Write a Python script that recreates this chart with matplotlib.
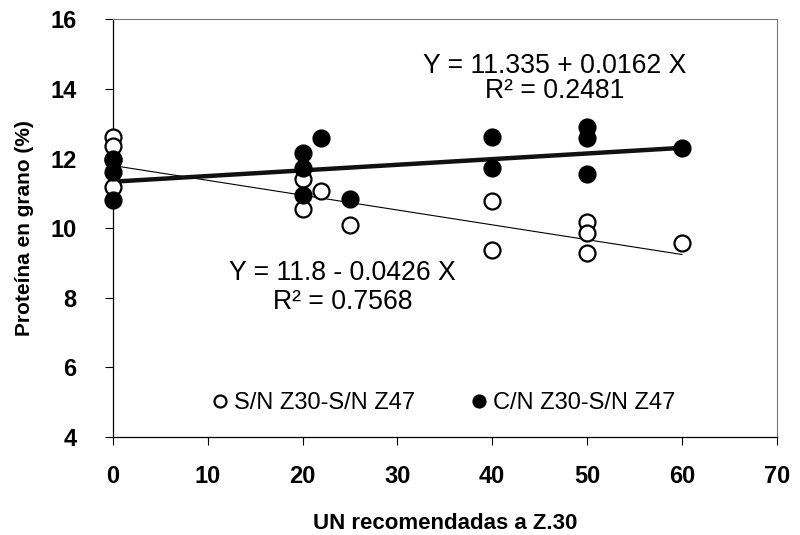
#!/usr/bin/python
#coding: utf8

## Proteina en grano vs UN recomendadas a Z.30

import matplotlib
matplotlib.use("Agg")
import matplotlib.pyplot as plt
import numpy as np

plt.rcParams['font.family'] = ['Liberation Sans', 'DejaVu Sans']

## data
sn_x = [0, 0, 0, 0, 20, 20, 22, 25, 40, 40, 50, 50, 50, 60]
sn_y = [12.63, 12.35, 11.95, 11.17, 11.42, 10.56, 11.08, 10.10, 10.79, 9.38, 10.19, 9.87, 9.30, 9.58]

cn_x = [0, 0, 0, 20, 20, 20, 22, 25, 40, 40, 50, 50, 50, 60]
cn_y = [12.00, 11.60, 10.82, 12.17, 11.74, 10.96, 12.58, 10.85, 12.63, 11.74, 12.92, 12.58, 11.57, 12.29]

## regression coefficients (from the equations on the chart)
sn_fit = (11.8, -0.0426)
cn_fit = (11.335, 0.0162)
fit_x = [0, 60]

x_ticks = [0, 10, 20, 30, 40, 50, 60, 70]
y_ticks = [4, 6, 8, 10, 12, 14, 16]

## figure
fig = plt.figure(figsize=(8, 5.35), dpi=100)
ax = fig.add_axes([0.141, 0.183, 0.830, 0.781])

xs = np.array(fit_x)
ax.plot(xs, sn_fit[0] + sn_fit[1] * xs, color='black', linewidth=0.8, zorder=2)
ax.plot(xs, cn_fit[0] + cn_fit[1] * xs, color='#111111', linewidth=3.2, zorder=2)

ax.plot(sn_x, sn_y, linestyle='none', marker='o', markersize=11.5,
        markerfacecolor='white', markeredgecolor='black', markeredgewidth=1.6,
        label='S/N Z30-S/N Z47', zorder=3, clip_on=False)
ax.plot(cn_x, cn_y, linestyle='none', marker='o', markersize=11.5,
        markerfacecolor='black', markeredgecolor='black', markeredgewidth=1.6,
        label='C/N Z30-S/N Z47', zorder=4, clip_on=False)

## equations
ax.text(46.6, 14.65, 'Y = 11.335 + 0.0162 X', ha='center', va='center', fontsize=19.2)
ax.text(46.6, 13.93, 'R² = 0.2481', ha='center', va='center', fontsize=19.2)
ax.text(24.2, 8.72, 'Y = 11.8 - 0.0426 X', ha='center', va='center', fontsize=19.2)
ax.text(24.2, 7.88, 'R² = 0.7568', ha='center', va='center', fontsize=19.2)

## axes
ax.set_xlim(0, 70)
ax.set_ylim(4, 16)
ax.set_xticks(x_ticks)
ax.set_yticks(y_ticks)
ax.tick_params(direction='out', length=6, width=0.8, labelsize=17)
ax.tick_params(axis='x', pad=14)
ax.tick_params(axis='y', pad=20)
for lab in ax.get_xticklabels() + ax.get_yticklabels():
    lab.set_fontweight('bold')

for side in ['left', 'bottom']:
    ax.spines[side].set_linewidth(0.9)
    ax.spines[side].set_color('black')
for side in ['top', 'right']:
    ax.spines[side].set_linewidth(0.8)
    ax.spines[side].set_color('#777777')

ax.set_xlabel('UN recomendadas a Z.30', fontsize=16, fontweight='bold', labelpad=18)
ax.set_ylabel('Proteína en grano (%)', fontsize=15, fontweight='bold', labelpad=12)

leg = ax.legend(loc='center', bbox_to_anchor=(0.496, 0.082), ncol=2, frameon=False,
                fontsize=17, markerscale=0.75, handletextpad=0.1, columnspacing=2.2,
                handlelength=1.0)

fig.savefig("out.png", dpi=100)
plt.close()
